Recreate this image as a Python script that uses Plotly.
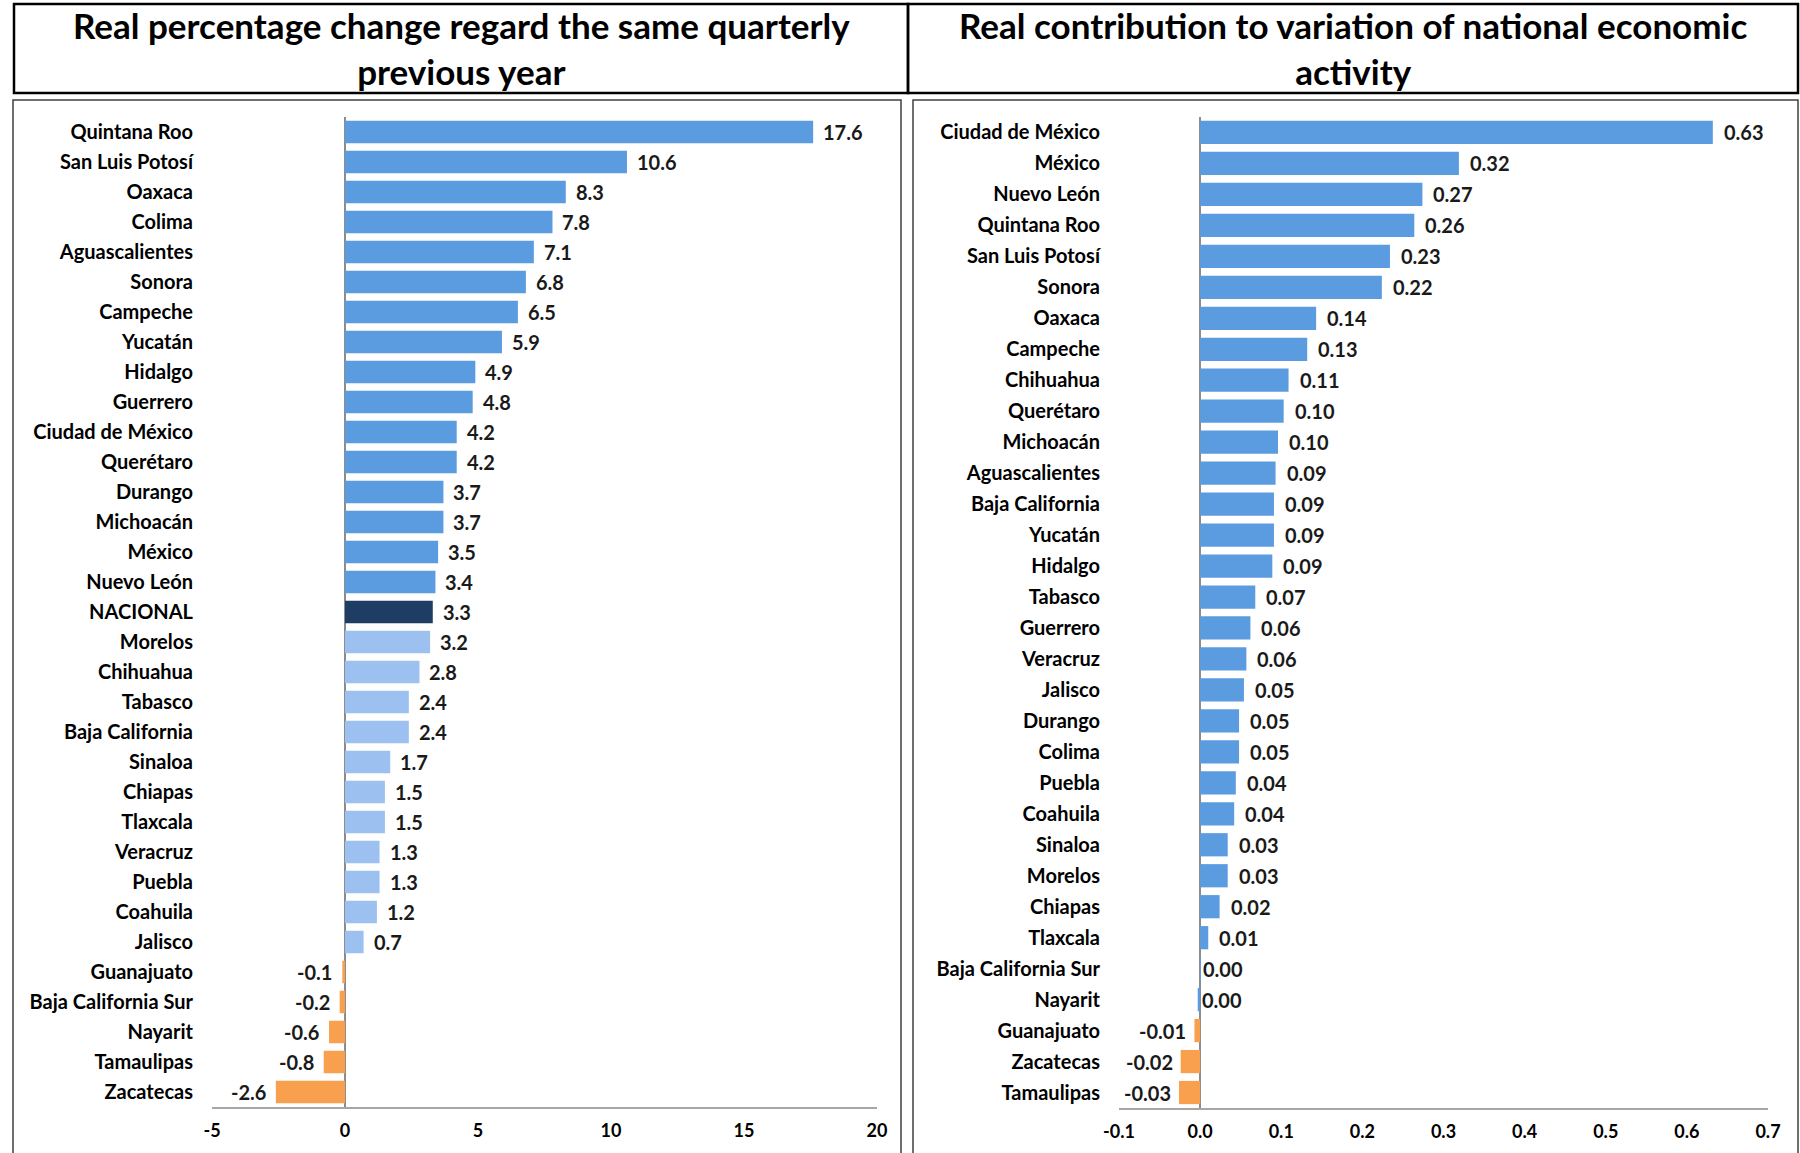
import plotly.graph_objects as go

# ---------------- data ----------------
left_states = ["Quintana Roo", "San Luis Potosí", "Oaxaca", "Colima", "Aguascalientes", "Sonora",
               "Campeche", "Yucatán", "Hidalgo", "Guerrero", "Ciudad de México", "Querétaro",
               "Durango", "Michoacán", "México", "Nuevo León", "NACIONAL", "Morelos", "Chihuahua",
               "Tabasco", "Baja California", "Sinaloa", "Chiapas", "Tlaxcala", "Veracruz", "Puebla",
               "Coahuila", "Jalisco", "Guanajuato", "Baja California Sur", "Nayarit", "Tamaulipas",
               "Zacatecas"]
left_values = [17.6, 10.6, 8.3, 7.8, 7.1, 6.8, 6.5, 5.9, 4.9, 4.8, 4.2, 4.2, 3.7, 3.7, 3.5, 3.4,
               3.3, 3.2, 2.8, 2.4, 2.4, 1.7, 1.5, 1.5, 1.3, 1.3, 1.2, 0.7, -0.1, -0.2, -0.6, -0.8,
               -2.6]

right_states = ["Ciudad de México", "México", "Nuevo León", "Quintana Roo", "San Luis Potosí",
                "Sonora", "Oaxaca", "Campeche", "Chihuahua", "Querétaro", "Michoacán",
                "Aguascalientes", "Baja California", "Yucatán", "Hidalgo", "Tabasco", "Guerrero",
                "Veracruz", "Jalisco", "Durango", "Colima", "Puebla", "Coahuila", "Sinaloa",
                "Morelos", "Chiapas", "Tlaxcala", "Baja California Sur", "Nayarit", "Guanajuato",
                "Zacatecas", "Tamaulipas"]
right_values = [0.632, 0.319, 0.274, 0.264, 0.234, 0.224, 0.143, 0.132, 0.109, 0.103, 0.096,
                0.093, 0.091, 0.091, 0.089, 0.068, 0.062, 0.057, 0.054, 0.048, 0.048, 0.044,
                0.042, 0.034, 0.034, 0.024, 0.010, 0.001, -0.003, -0.007, -0.024, -0.026]

left_ticks = [-5, 0, 5, 10, 15, 20]
right_ticks = [-0.1, 0.0, 0.1, 0.2, 0.3, 0.4, 0.5, 0.6, 0.7]

title_left = "Real percentage change regard the same quarterly<br>previous year"
title_right = "Real contribution to variation of national economic<br>activity"

# ---------------- style ----------------
BLUE = "#5B9BE0"
LIGHT = "#9CC1F0"
NAVY = "#1F3C64"
ORANGE = "#F9A04E"
W, H = 1800, 1153
FONT = "Lato, Roboto, sans-serif"

nat = left_values[left_states.index("NACIONAL")]
left_colors = []
for s, v in zip(left_states, left_values):
    if s == "NACIONAL":
        left_colors.append(NAVY)
    elif v < 0:
        left_colors.append(ORANGE)
    elif v > nat:
        left_colors.append(BLUE)
    else:
        left_colors.append(LIGHT)
right_colors = [ORANGE if round(v, 2) < 0 else BLUE for v in right_values]

fig = go.Figure()
fig.add_trace(go.Bar(x=left_values, y=left_states, orientation="h",
                     marker=dict(color=left_colors, line=dict(width=0)),
                     xaxis="x", yaxis="y", hoverinfo="x+y"))
fig.add_trace(go.Bar(x=right_values, y=right_states, orientation="h",
                     marker=dict(color=right_colors, line=dict(width=0)),
                     xaxis="x2", yaxis="y2", hoverinfo="x+y"))

annotations = []
for s, v in zip(left_states, left_values):
    neg = v < 0
    annotations.append(dict(x=v, y=s, xref="x", yref="y", text=f"{v:.1f}", showarrow=False,
                            xanchor="right" if neg else "left", xshift=-8 if neg else 8,
                            font=dict(family=FONT, size=20, color="#1a1a1a", weight="bold")))
for s, v in zip(right_states, right_values):
    r = round(v, 2)
    neg = r < 0
    zero = r == 0
    annotations.append(dict(x=v if neg else max(v, 0), y=s, xref="x2", yref="y2",
                            text=f"{abs(r) if zero else v:.2f}",
                            showarrow=False,
                            xanchor="right" if neg else "left",
                            xshift=-6 if neg else (0 if zero else 9),
                            font=dict(family=FONT, size=20, color="#1a1a1a", weight="bold")))

# headers
annotations.append(dict(x=461 / W, y=1 - 48 / H, xref="paper", yref="paper", text=title_left,
                        showarrow=False, xanchor="center", yanchor="middle",
                        font=dict(family=FONT, size=35, color="black", weight="bold")))
annotations.append(dict(x=1353 / W, y=1 - 48 / H, xref="paper", yref="paper", text=title_right,
                        showarrow=False, xanchor="center", yanchor="middle",
                        font=dict(family=FONT, size=35, color="black", weight="bold")))

shapes = [
    dict(type="rect", xref="paper", yref="paper", x0=14 / W, x1=908 / W, y0=1 - 93 / H, y1=1 - 4 / H,
         line=dict(color="black", width=2.5)),
    dict(type="rect", xref="paper", yref="paper", x0=908 / W, x1=1798 / W, y0=1 - 93 / H, y1=1 - 4 / H,
         line=dict(color="black", width=2.5)),
    dict(type="rect", xref="paper", yref="paper", x0=13 / W, x1=901 / W, y0=-0.02, y1=1 - 100 / H,
         line=dict(color="#404040", width=1.5)),
    dict(type="rect", xref="paper", yref="paper", x0=913 / W, x1=1798 / W, y0=-0.02, y1=1 - 100 / H,
         line=dict(color="#404040", width=1.5)),
]

axis_common = dict(showgrid=False, zeroline=True, zerolinecolor="#8C8C8C", zerolinewidth=1.5,
                   showline=True, linecolor="#A6A6A6", linewidth=1.5, ticks="",
                   tickfont=dict(family=FONT, size=18, color="black", weight="bold"),
                   ticklabelstandoff=7, fixedrange=True, automargin=False)
yaxis_common = dict(showgrid=False, zeroline=False, showline=False, ticks="",
                    autorange="reversed", type="category",
                    tickfont=dict(family=FONT, size=20, color="black", weight="bold"),
                    ticklabelstandoff=18, fixedrange=True, automargin=False)

fig.update_layout(
    width=W, height=H, margin=dict(l=0, r=0, t=0, b=0, autoexpand=False),
    paper_bgcolor="white", plot_bgcolor="white", showlegend=False, bargap=0.25,
    xaxis=dict(domain=[212 / W, 877 / W], range=[-5, 20], tickvals=left_ticks,
               ticktext=[str(t) for t in left_ticks], anchor="y", **axis_common),
    yaxis=dict(domain=[1 - 1107 / H, 1 - 117 / H], anchor="x",
               categoryorder="array", categoryarray=left_states, **yaxis_common),
    xaxis2=dict(domain=[1119 / W, 1768 / W], range=[-0.1, 0.7], tickvals=right_ticks,
                ticktext=[f"{t:.1f}" for t in right_ticks], anchor="y2", **axis_common),
    yaxis2=dict(domain=[1 - 1108 / H, 1 - 117 / H], anchor="x2",
                categoryorder="array", categoryarray=right_states, **yaxis_common),
    annotations=annotations, shapes=shapes,
)

fig.write_html("out.html", config={"displayModeBar": False},
               post_script="document.body.style.margin='0px';document.body.style.padding='0px';")
